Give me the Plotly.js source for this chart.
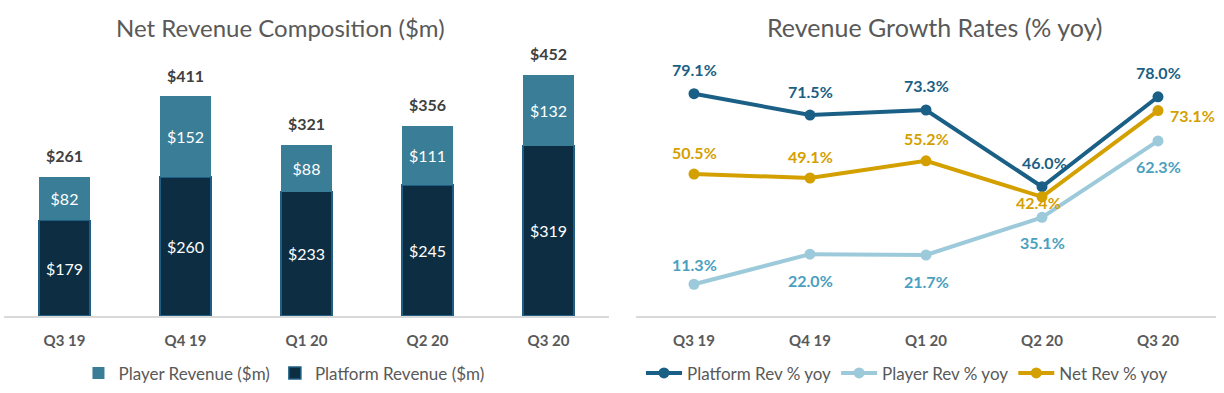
<!DOCTYPE html>
<html>
<head>
<meta charset="utf-8">
<script src="https://cdn.plot.ly/plotly-3.0.1.min.js"></script>
<style>html,body{margin:0;padding:0;background:#fff;}#chart{width:1224px;height:393px;}</style>
</head>
<body>
<div id="chart"></div>
<script>
// ---- data ----
const quarters = ["Q3 19", "Q4 19", "Q1 20", "Q2 20", "Q3 20"];
const platformRevenue = [179, 260, 233, 245, 319];
const playerRevenue = [82, 152, 88, 111, 132];
const netRevenue = [261, 411, 321, 356, 452];
const platformYoy = [79.1, 71.5, 73.3, 46.0, 78.0];
const playerYoy = [11.3, 22.0, 21.7, 35.1, 62.3];
const netYoy = [50.5, 49.1, 55.2, 42.4, 73.1];

// ---- styles ----
const FONT = "Lato, 'Open Sans', sans-serif";
const GRAY = "#595959";
const C_PLATFORM_BAR = "#0D2E42";
const C_PLAYER_BAR = "#3A7D96";
const C_PLATFORM = "#1A5F85";
const C_PLAYER = "#9CCADB";
const C_PLAYER_TXT = "#4A9FC0";
const C_NET = "#D4A000";

// label offsets (styling) [xshift, yshift, xanchor]
const platformLblPos = [[0,24,'center'],[0,24,'center'],[0,24,'center'],[2,24,'center'],[0,24,'center']];
const playerLblPos = [[0,20,'center'],[0,-26,'center'],[0,-26,'center'],[0,-25,'center'],[0,-26,'center']];
const netLblPos = [[0,22,'center'],[0,22,'center'],[0,22,'center'],[-4,-6,'center'],[10,-5,'left']];

const fmt$ = v => "$" + v;
const fmtPct = v => v.toFixed(1) + "%";

const traces = [
  {
    type: "bar", x: quarters, y: platformRevenue, name: "Platform Revenue ($m)",
    xaxis: "x", yaxis: "y", legend: "legend",
    marker: {color: C_PLATFORM_BAR, line: {color: "#1F5F85", width: 1.5}},
    text: platformRevenue.map(fmt$), textposition: "inside", insidetextanchor: "middle",
    textfont: {color: "#ffffff", size: 16, family: FONT}, width: 0.42,
    legendrank: 2, hoverinfo: "skip"
  },
  {
    type: "bar", x: quarters, y: playerRevenue, name: "Player Revenue ($m)",
    xaxis: "x", yaxis: "y", legend: "legend",
    marker: {color: C_PLAYER_BAR, line: {width: 0}},
    text: playerRevenue.map(fmt$), textposition: "inside", insidetextanchor: "middle",
    textfont: {color: "#ffffff", size: 16, family: FONT}, width: 0.42,
    legendrank: 1, hoverinfo: "skip"
  },
  {
    type: "scatter", mode: "lines+markers", x: quarters, y: platformYoy, name: "Platform Rev % yoy",
    xaxis: "x2", yaxis: "y2", legend: "legend2",
    line: {color: C_PLATFORM, width: 4}, marker: {color: C_PLATFORM, size: 11}, hoverinfo: "skip"
  },
  {
    type: "scatter", mode: "lines+markers", x: quarters, y: playerYoy, name: "Player Rev % yoy",
    xaxis: "x2", yaxis: "y2", legend: "legend2",
    line: {color: C_PLAYER, width: 4}, marker: {color: C_PLAYER, size: 11}, hoverinfo: "skip"
  },
  {
    type: "scatter", mode: "lines+markers", x: quarters, y: netYoy, name: "Net Rev % yoy",
    xaxis: "x2", yaxis: "y2", legend: "legend2",
    line: {color: C_NET, width: 4}, marker: {color: C_NET, size: 11}, hoverinfo: "skip"
  }
];

const annotations = [];
// chart titles
annotations.push({text: "Net Revenue Composition ($m)", xref: "paper", yref: "paper",
  x: 0.229, xanchor: "center", y: 1, yshift: 22, yanchor: "middle", showarrow: false,
  font: {family: FONT, size: 24, color: GRAY}});
annotations.push({text: "Revenue Growth Rates (% yoy)", xref: "paper", yref: "paper",
  x: 0.764, xanchor: "center", y: 1, yshift: 22, yanchor: "middle", showarrow: false,
  font: {family: FONT, size: 25, color: GRAY}});
// totals above bars
quarters.forEach((q, i) => {
  annotations.push({text: "<b>" + fmt$(netRevenue[i]) + "</b>", x: q, y: netRevenue[i],
    xref: "x", yref: "y", yshift: 21, showarrow: false,
    font: {family: FONT, size: 16, color: "#404040"}});
});
function addLineLabels(vals, pos, color) {
  quarters.forEach((q, i) => {
    annotations.push({text: "<b>" + fmtPct(vals[i]) + "</b>", x: q, y: vals[i],
      xref: "x2", yref: "y2", xshift: pos[i][0], yshift: pos[i][1], xanchor: pos[i][2],
      showarrow: false, font: {family: FONT, size: 16, color: color}});
  });
}
addLineLabels(platformYoy, platformLblPos, C_PLATFORM);
addLineLabels(playerYoy, playerLblPos, C_PLAYER_TXT);
addLineLabels(netYoy, netLblPos, C_NET);

const xCommon = {
  type: "category", showgrid: false, zeroline: false, showline: true,
  linecolor: "#D9D9D9", linewidth: 2, ticks: "", ticklabelstandoff: 10,
  range: [-0.5, 4.5], autorange: false,
  tickfont: {family: FONT, size: 15, color: GRAY, weight: "bold"}, fixedrange: true
};
const yCommon = {showgrid: false, zeroline: false, showline: false, showticklabels: false, fixedrange: true};

const layout = {
  width: 1224, height: 393,
  margin: {l: 0, r: 0, t: 49, b: 77},
  paper_bgcolor: "#ffffff", plot_bgcolor: "#ffffff",
  barmode: "stack",
  font: {family: FONT, color: GRAY},
  xaxis: Object.assign({}, xCommon, {domain: [4/1224, 609/1224], anchor: "y"}),
  yaxis: Object.assign({}, yCommon, {range: [0, 500], anchor: "x"}),
  xaxis2: Object.assign({}, xCommon, {domain: [636/1224, 1216/1224], anchor: "y2"}),
  yaxis2: Object.assign({}, yCommon, {range: [0, 95], anchor: "x2"}),
  legend: {orientation: "h", x: 0.232, xanchor: "center", y: -0.215, yanchor: "middle",
    font: {family: FONT, size: 17, color: GRAY}, traceorder: "normal", itemclick: false},
  legend2: {orientation: "h", x: 0.741, xanchor: "center", y: -0.215, yanchor: "middle",
    font: {family: FONT, size: 17, color: GRAY}, itemclick: false, itemwidth: 36},
  showlegend: true,
  annotations: annotations
};

Plotly.newPlot("chart", traces, layout, {displayModeBar: false, staticPlot: true});
</script>
</body>
</html>
